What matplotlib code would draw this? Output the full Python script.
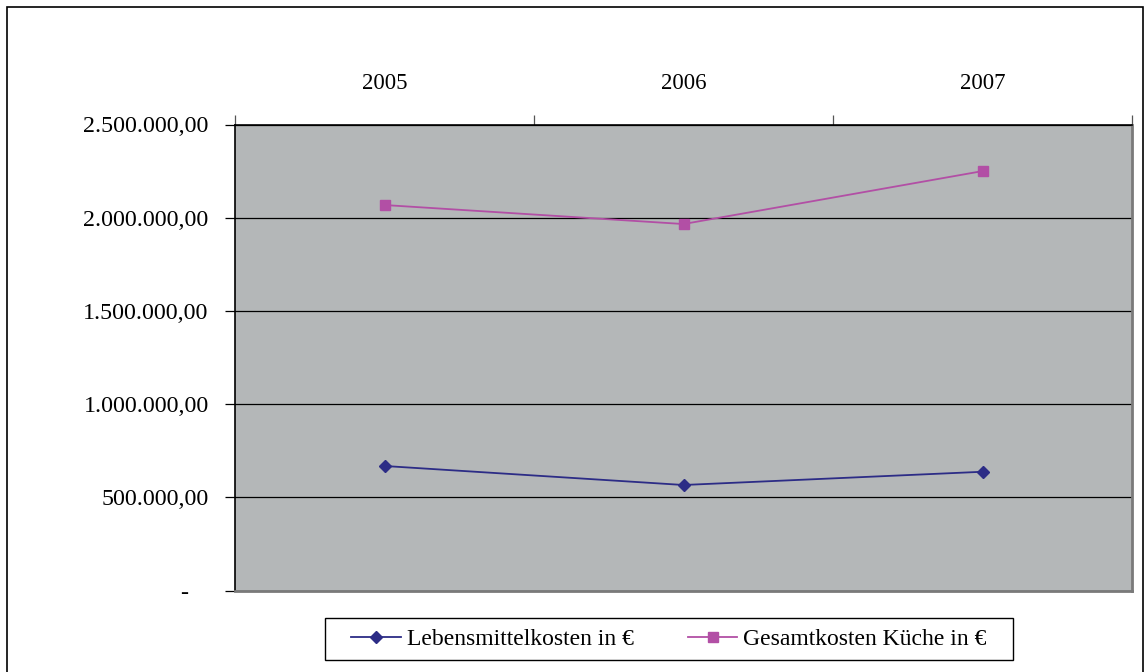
import matplotlib
matplotlib.use("Agg")
import matplotlib.pyplot as plt
from matplotlib.patches import Rectangle
from matplotlib.ticker import FixedLocator
from matplotlib.transforms import ScaledTranslation

years = ["2005", "2006", "2007"]
lebensmittel = [668000, 566000, 637000]
gesamt_kueche = [2068000, 1966000, 2250000]
y_ticks = [0, 500000, 1000000, 1500000, 2000000, 2500000]
y_labels = ["-", "500.000,00", "1.000.000,00", "1.500.000,00", "2.000.000,00", "2.500.000,00"]

plt.rcParams["font.family"] = ["Liberation Serif", "DejaVu Serif"]

W, H = 1145, 672
fig = plt.figure(figsize=(W / 100, H / 100), dpi=100)

# outer chart frame
fig.patches.append(Rectangle((7 / W, -0.05), (1143 - 7) / W, 1.05 - 7 / H,
                             transform=fig.transFigure, fill=False,
                             edgecolor="black", linewidth=1.2))

left, right, top, bottom = 235, 1132, 124.5, 590.5
ax = fig.add_axes([left / W, 1 - bottom / H, (right - left) / W, (bottom - top) / H])
ax.set_facecolor("#B4B7B8")

x = list(range(len(years)))
ax.plot(x, lebensmittel, color="#2C2C86", marker="D", markersize=6.5,
        linewidth=1.3, label="Lebensmittelkosten in €")
ax.plot(x, gesamt_kueche, color="#B24FA5", marker="s", markersize=6.5,
        linewidth=1.3, label="Gesamtkosten Küche in €")

ax.set_xlim(-0.5, len(years) - 0.5)
ax.set_ylim(0, 2500000)

# horizontal gridlines and value labels
ax.yaxis.set_major_locator(FixedLocator(y_ticks))
ax.set_yticklabels(y_labels, fontsize=17.3)
ax.yaxis.grid(True, color="black", linewidth=0.9)
ax.set_axisbelow(True)
ax.tick_params(axis="y", direction="out", length=7, width=0.9, pad=12)
# the zero label "-" sits further left, as in accounting number format
zero_lbl = ax.get_yticklabels()[0]
zero_lbl.set_transform(zero_lbl.get_transform()
                       + ScaledTranslation(-0.20, 0, fig.dpi_scale_trans))

# category labels above the plot, tick marks at category boundaries
ax.xaxis.tick_top()
ax.set_xticks(x)
ax.set_xticklabels(years, fontsize=16.4)
ax.set_xticks([i - 0.5 for i in range(len(years) + 1)], minor=True)
ax.tick_params(axis="x", which="major", length=0, pad=22)
ax.tick_params(axis="x", which="minor", length=7, width=0.9, direction="out", color="#555555")

ax.spines["left"].set_color("black")
ax.spines["left"].set_linewidth(1.2)
ax.spines["top"].set_color("black")
ax.spines["top"].set_linewidth(1.2)
ax.spines["right"].set_color("#7A7A7A")
ax.spines["right"].set_linewidth(2)
ax.spines["bottom"].set_color("#7A7A7A")
ax.spines["bottom"].set_linewidth(2)

# legend box
lx0, lx1, ly0, ly1 = 325, 1013, 618, 660
fig.patches.append(Rectangle((lx0 / W, 1 - ly1 / H), (lx1 - lx0) / W, (ly1 - ly0) / H,
                             transform=fig.transFigure, fill=True, facecolor="white",
                             edgecolor="black", linewidth=1.0, zorder=5))
leg = fig.legend(loc="center", ncol=2, fontsize=17,
                 bbox_to_anchor=((lx0 + lx1) / 2 / W, 1 - (ly0 + ly1) / 2 / H),
                 frameon=False, handlelength=2.1, columnspacing=2.3,
                 borderpad=0.0, handletextpad=0.25)
leg.set_zorder(6)

fig.savefig("out.png", dpi=100, facecolor="white")
